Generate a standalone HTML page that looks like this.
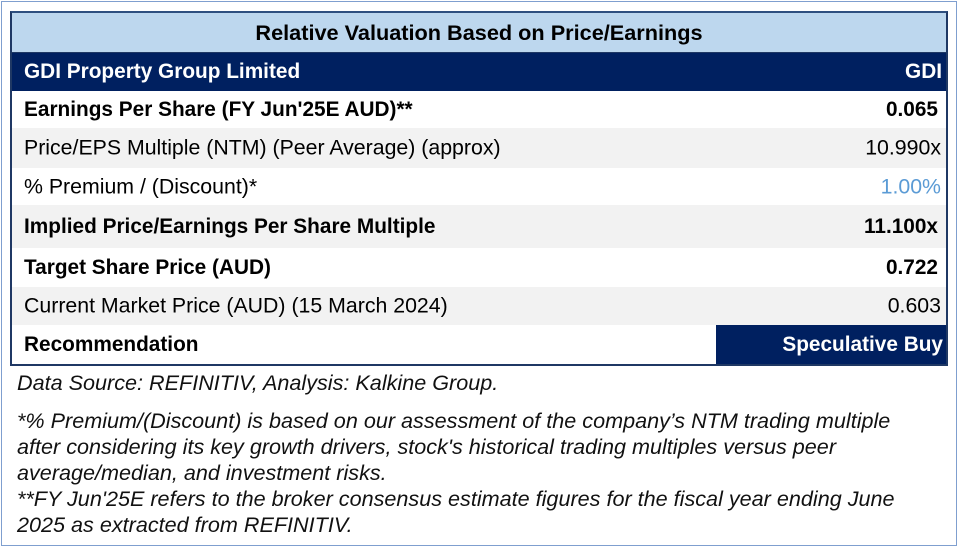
<!DOCTYPE html>
<html><head><meta charset="utf-8"><style>
body{margin:0;width:959px;height:548px;background:#fff;font-family:"Liberation Sans",Arial,sans-serif;position:relative;overflow:hidden}
#frame{position:absolute;left:1px;top:1px;width:954px;height:543px;border:1px solid #7f9fcf}
#tbl{position:absolute;left:10px;top:11px;width:934px;border:2px solid #1f3864;border-top-color:#2e4f7f}
.row{position:relative;box-sizing:border-box;font-size:21.3px;color:#000}
.row span{position:absolute;top:50%;transform:translateY(-50%);white-space:nowrap}
.l{left:12px}.r{right:5px}
.b{font-weight:bold;font-size:20.8px}
.b .r{right:8px}
.g{background:#f2f2f2}
.note{position:absolute;left:17px;font-style:italic;font-size:21.6px;color:#111;line-height:26px;white-space:nowrap}
</style></head><body>
<div id="frame"></div>
<div id="tbl">
 <div class="row b" style="height:40px;background:#bdd7ee;border-bottom:1px solid #1f3864;font-size:21.7px"><span style="left:0;right:0;text-align:center">Relative Valuation Based on Price/Earnings</span></div>
 <div class="row b" style="height:38px;background:#002060;color:#fff"><span class="l">GDI Property Group Limited</span><span class="r" style="right:4px">GDI</span></div>
 <div class="row b" style="height:37px"><span class="l">Earnings Per Share (FY Jun'25E AUD)**</span><span class="r">0.065</span></div>
 <div class="row g" style="height:40px"><span class="l">Price/EPS Multiple (NTM) (Peer Average) (approx)</span><span class="r">10.990x</span></div>
 <div class="row" style="height:37px"><span class="l">% Premium / (Discount)*</span><span class="r" style="color:#5b9bd5">1.00%</span></div>
 <div class="row g b" style="height:43px"><span class="l">Implied Price/Earnings Per Share Multiple</span><span class="r">11.100x</span></div>
 <div class="row b" style="height:39px"><span class="l">Target Share Price (AUD)</span><span class="r">0.722</span></div>
 <div class="row g" style="height:38px"><span class="l">Current Market Price (AUD) (15 March 2024)</span><span class="r">0.603</span></div>
 <div class="row b" style="height:39px"><span class="l">Recommendation</span><div style="position:absolute;left:704px;right:0;top:0;bottom:0;background:#002060"></div><span class="r" style="color:#fff;right:3px">Speculative Buy</span></div>
</div>
<div class="note" style="top:370px">Data Source: REFINITIV, Analysis: Kalkine Group.</div>
<div class="note" style="top:408px">*% Premium/(Discount) is based on our assessment of the company’s NTM trading multiple<br>after considering its key growth drivers, stock's historical trading multiples versus peer<br>average/median, and investment risks.<br>**FY Jun'25E refers to the broker consensus estimate figures for the fiscal year ending June<br>2025 as extracted from REFINITIV.</div>
</body></html>
